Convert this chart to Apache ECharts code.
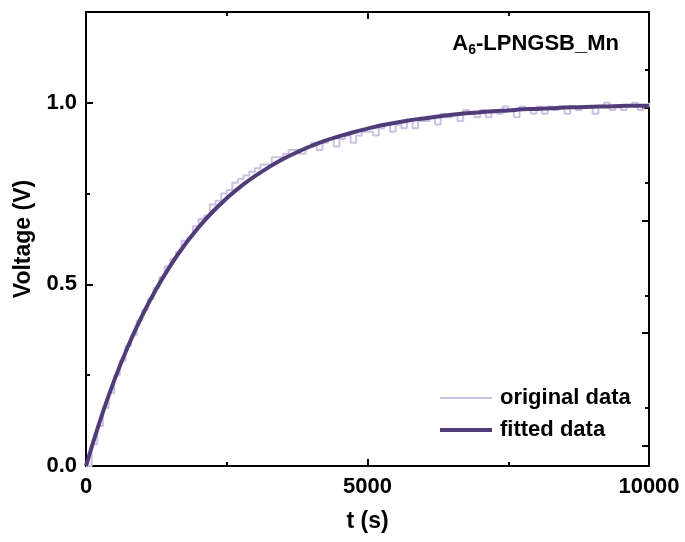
<!DOCTYPE html>
<html>
<head>
<meta charset="utf-8">
<script src="https://cdn.jsdelivr.net/npm/echarts@6/dist/echarts.min.js"></script>
<style>
html,body{margin:0;padding:0;background:#fff;}
#chart{width:685px;height:542px;}
</style>
</head>
<body>
<div id="chart"></div>
<script>
// ---- data ----
const timeOriginal = [0,100,200,300,400,500,600,700,800,900,1000,1100,1200,1300,1400,1500,1600,1700,1800,1900,2000,2100,2200,2300,2400,2500,2600,2700,2800,2900,3000,3100,3200,3300,3400,3500,3600,3700,3800,3900,4000,4100,4200,4300,4400,4500,4600,4700,4800,4900,5000,5100,5200,5300,5400,5500,5600,5700,5800,5900,6000,6100,6200,6300,6400,6500,6600,6700,6800,6900,7000,7100,7200,7300,7400,7500,7600,7700,7800,7900,8000,8100,8200,8300,8400,8500,8600,8700,8800,8900,9000,9100,9200,9300,9400,9500,9600,9700,9800,9900,10000];
const voltageOriginal = [0.00,0.06,0.11,0.16,0.20,0.25,0.29,0.33,0.36,0.40,0.43,0.46,0.49,0.52,0.55,0.57,0.59,0.62,0.63,0.66,0.68,0.69,0.72,0.73,0.75,0.76,0.78,0.79,0.80,0.81,0.82,0.83,0.83,0.85,0.85,0.86,0.87,0.87,0.86,0.88,0.89,0.87,0.89,0.90,0.88,0.90,0.91,0.89,0.91,0.92,0.92,0.91,0.93,0.94,0.92,0.94,0.93,0.95,0.93,0.95,0.95,0.96,0.94,0.97,0.96,0.97,0.95,0.98,0.97,0.96,0.98,0.96,0.98,0.97,0.99,0.98,0.96,0.99,0.98,0.97,0.99,0.97,0.99,0.98,0.99,0.97,0.99,0.98,0.99,0.99,0.97,0.99,1.00,0.98,0.99,0.98,0.99,1.00,0.98,0.99,1.00];
const timeFitted = [0,250,500,750,1000,1250,1500,1750,2000,2250,2500,2750,3000,3250,3500,3750,4000,4250,4500,4750,5000,5250,5500,5750,6000,6250,6500,6750,7000,7250,7500,7750,8000,8250,8500,8750,9000,9250,9500,9750,10000];
const voltageFitted = [0,0.125,0.235,0.331,0.415,0.488,0.552,0.608,0.657,0.700,0.737,0.770,0.798,0.823,0.845,0.864,0.881,0.896,0.908,0.919,0.929,0.938,0.945,0.952,0.957,0.962,0.967,0.971,0.974,0.977,0.979,0.982,0.983,0.985,0.987,0.988,0.989,0.990,0.991,0.992,0.992];
const seriesNames = ['original data','fitted data'];
const xTicks = [0,5000,10000];
const yTicks = [0,0.5,1.0];
const sampleLabel = ['A','6','-LPNGSB_Mn'];

const FONT = 'Liberation Sans, Arial, sans-serif';
const chart = echarts.init(document.getElementById('chart'), null, {renderer:'canvas'});

const G = {left:86, right:36, top:12, bottom:76};
const lbl = {fontFamily:FONT, fontWeight:'bold', fontSize:22, color:'#000'};
const nameStyle = {fontFamily:FONT, fontWeight:'bold', fontSize:23, color:'#000'};
const tickLine = {color:'#000', width:2};

function hiddenX(gi){
  return {type:'value', gridIndex:gi, min:0, max:10000, show:false};
}
// legend line icons: a bar plus two invisible corner specks that fix the box
const iconThin = 'path://M0,6H52V8H0Z M0,0H0.01V0.01H0Z M51.99,13.99H52V14H51.99Z';
const iconThick = 'path://M0,5H52V9H0Z M0,0H0.01V0.01H0Z M51.99,13.99H52V14H51.99Z';

const option = {
  animation:false,
  backgroundColor:'#fff',
  grid:[
    {left:G.left, right:G.right, top:G.top, bottom:G.bottom, show:false},
    {left:G.left, right:G.right, top:108, bottom:542-445.5, show:false},
    {left:G.left, right:G.right, top:70, bottom:542-408, show:false}
  ],
  xAxis:[
    {type:'value', gridIndex:0, min:0, max:10000, interval:5000, position:'bottom',
     name:'t (s)', nameLocation:'middle', nameGap:44, nameTextStyle:nameStyle,
     axisLine:{show:true, onZero:false, lineStyle:{color:'#000', width:2}},
     axisTick:{show:true, inside:true, length:7, lineStyle:tickLine},
     minorTick:{show:true, splitNumber:2, length:4, lineStyle:tickLine},
     axisLabel:{...lbl, margin:10, formatter:v=>xTicks.includes(v)?String(v):''},
     splitLine:{show:false}},
    {type:'value', gridIndex:0, min:0, max:10000, interval:5000, position:'top',
     axisLine:{show:true, onZero:false, lineStyle:{color:'#000', width:2}},
     axisTick:{show:true, inside:true, length:7, lineStyle:tickLine},
     minorTick:{show:true, splitNumber:2, length:4, lineStyle:tickLine},
     axisLabel:{show:false}, splitLine:{show:false}},
    hiddenX(1), hiddenX(2)
  ],
  yAxis:[
    {type:'value', gridIndex:0, min:0, max:1.25, interval:0.5, position:'left',
     name:'Voltage (V)', nameLocation:'middle', nameGap:46, nameTextStyle:nameStyle,
     axisLine:{show:true, onZero:false, lineStyle:{color:'#000', width:2}},
     axisTick:{show:true, inside:true, length:7, lineStyle:tickLine},
     axisLabel:{...lbl, margin:9, formatter:v=>yTicks.some(t=>Math.abs(t-v)<1e-9)?v.toFixed(1):''},
     splitLine:{show:false}},
    {type:'value', gridIndex:0, min:0, max:1.25, interval:0.25, position:'left',
     axisLine:{show:false, onZero:false},
     axisTick:{show:true, inside:true, length:4, lineStyle:tickLine},
     axisLabel:{show:false}, splitLine:{show:false}},
    {type:'value', gridIndex:0, min:0, max:1.25, position:'right',
     axisLine:{show:true, onZero:false, lineStyle:{color:'#000', width:2}},
     axisTick:{show:false}, axisLabel:{show:false}, splitLine:{show:false}},
    {type:'value', gridIndex:1, min:0, max:3, interval:1, position:'right',
     axisLine:{show:false, onZero:false},
     axisTick:{show:true, inside:true, length:7, lineStyle:tickLine},
     axisLabel:{show:false}, splitLine:{show:false}},
    {type:'value', gridIndex:2, min:0, max:3, interval:1, position:'right',
     axisLine:{show:false, onZero:false},
     axisTick:{show:true, inside:true, length:4, lineStyle:tickLine},
     axisLabel:{show:false}, splitLine:{show:false}}
  ],
  legend:{
    orient:'vertical', left:440, top:387, padding:0,
    itemWidth:52, itemHeight:14, itemGap:10,
    textStyle:{...lbl, padding:[0,0,0,3]},
    data:[
      {name:seriesNames[0], icon:iconThin},
      {name:seriesNames[1], icon:iconThick}
    ]
  },
  series:[
    {name:seriesNames[0], type:'line', xAxisIndex:0, yAxisIndex:0, step:'end',
     showSymbol:false, symbol:'none', z:2,
     lineStyle:{color:'#cbc2e3', width:2}, itemStyle:{color:'#cbc2e3'},
     data:timeOriginal.map((t,i)=>[t,voltageOriginal[i]])},
    {name:seriesNames[1], type:'line', xAxisIndex:0, yAxisIndex:0, smooth:true,
     showSymbol:false, symbol:'none', z:3,
     lineStyle:{color:'#4f3c78', width:4}, itemStyle:{color:'#4f3c78'},
     data:timeFitted.map((t,i)=>[t,voltageFitted[i]])}
  ],
  graphic:[
    {type:'text', right:685-619, top:33, z:10,
     style:{
       text:'{a|'+sampleLabel[0]+'}{s|'+sampleLabel[1]+'}{a|'+sampleLabel[2]+'}',
       rich:{
         a:{fontFamily:FONT, fontWeight:'bold', fontSize:22, fill:'#000'},
         s:{fontFamily:FONT, fontWeight:'bold', fontSize:14, fill:'#000', padding:[12,0,0,0]}
       }
     }}
  ]
};
chart.setOption(option);
</script>
</body>
</html>
